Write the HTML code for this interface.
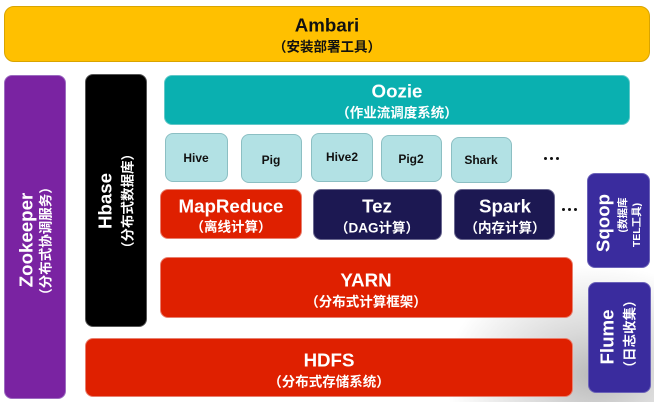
<!DOCTYPE html>
<html>
<head>
<meta charset="utf-8">
<style>
  html, body { margin:0; padding:0; }
  body {
    width:654px; height:402px; overflow:hidden; position:relative;
    background:#fff;
    font-family:"Liberation Sans","Noto Sans CJK SC",sans-serif;
  }
  .shade {
    position:absolute; left:0; top:0; width:654px; height:402px;
    background: radial-gradient(ellipse 150px 110px at 595px 375px, #b9b9b9 0%, #d9d9d9 40%, rgba(255,255,255,0) 100%);
  }
  .box { position:absolute; box-sizing:border-box; border-radius:8px; }
  .t { position:absolute; white-space:nowrap; line-height:1; font-weight:bold;
       transform: translate(-50%,-50%); }
  .r { position:absolute; white-space:nowrap; line-height:1; font-weight:bold;
       transform: translate(-50%,-50%) rotate(-90deg); }
  .title { font-size:18.7px; }
  .sub { font-size:13.5px; }
  .w { color:#fff; }
  .k { color:#111; }
  .red { background:#DF2000; border:1px solid #e88070; }
  .navy { background:#1C1852; border:1px solid #6a6890; }
  .light { background:#B2E1E4; border:1px solid #8CBFC3; }
  .blue { background:#3A2C9E; border:1px solid #6b62b8; }
  .dot { position:absolute; width:3px; height:3px; background:#111; border-radius:50%; }
</style>
</head>
<body>
<div class="shade"></div>

<!-- Ambari -->
<div class="box" style="left:4px;top:6px;width:646px;height:56px;background:#FFC000;border:1px solid #d9a400;border-radius:10px;"></div>
<div class="t title k" style="left:327px;top:26px;">Ambari</div>
<div class="t sub k" style="left:327px;top:47px;">（安装部署工具）</div>

<!-- Zookeeper -->
<div class="box" style="left:4px;top:75px;width:62px;height:324px;background:#7A23A2;border:1px solid #9c6cc0;"></div>
<div class="r title w" style="left:27px;top:240px;">Zookeeper</div>
<div class="r sub w" style="left:46px;top:241px;">（分布式协调服务）</div>

<!-- Hbase -->
<div class="box" style="left:85px;top:74px;width:62px;height:253px;background:#000;border:1px solid #555;"></div>
<div class="r title w" style="left:106px;top:201px;">Hbase</div>
<div class="r sub w" style="left:128px;top:201px;">（分布式数据库）</div>

<!-- Oozie -->
<div class="box" style="left:164px;top:75px;width:466px;height:50px;background:#0AB0B0;border:1px solid #62c8c8;"></div>
<div class="t title w" style="left:397px;top:92px;">Oozie</div>
<div class="t sub w" style="left:397px;top:113px;">（作业流调度系统）</div>

<!-- Light row -->
<div class="box light" style="left:165px;top:133px;width:63px;height:49px;"></div>
<div class="t k" style="left:196px;top:158px;font-size:12px;">Hive</div>
<div class="box light" style="left:241px;top:134px;width:61px;height:49px;"></div>
<div class="t k" style="left:271px;top:160px;font-size:12px;">Pig</div>
<div class="box light" style="left:311px;top:133px;width:62px;height:49px;"></div>
<div class="t k" style="left:342px;top:157px;font-size:12px;">Hive2</div>
<div class="box light" style="left:381px;top:135px;width:61px;height:47px;"></div>
<div class="t k" style="left:411px;top:159px;font-size:12px;">Pig2</div>
<div class="box light" style="left:451px;top:137px;width:61px;height:46px;"></div>
<div class="t k" style="left:481px;top:160px;font-size:12px;">Shark</div>
<div class="dot" style="left:544px;top:157px;"></div>
<div class="dot" style="left:550px;top:157px;"></div>
<div class="dot" style="left:556px;top:157px;"></div>

<!-- compute row -->
<div class="box red" style="left:160px;top:189px;width:142px;height:50px;"></div>
<div class="t title w" style="left:231px;top:207px;">MapReduce</div>
<div class="t sub w" style="left:231px;top:227px;">（离线计算）</div>

<div class="box navy" style="left:313px;top:189px;width:129px;height:51px;"></div>
<div class="t title w" style="left:377px;top:207px;">Tez</div>
<div class="t sub w" style="left:377px;top:228px;">（DAG计算）</div>

<div class="box navy" style="left:454px;top:189px;width:101px;height:51px;"></div>
<div class="t title w" style="left:505px;top:207px;">Spark</div>
<div class="t sub w" style="left:505px;top:228px;">（内存计算）</div>

<div class="dot" style="left:562px;top:208px;"></div>
<div class="dot" style="left:568px;top:208px;"></div>
<div class="dot" style="left:574px;top:208px;"></div>

<!-- Sqoop -->
<div class="box blue" style="left:587px;top:173px;width:63px;height:95px;"></div>
<div class="r title w" style="left:604px;top:223px;">Sqoop</div>
<div class="r w" style="left:623px;top:215px;font-size:10.5px;">(数据库</div>
<div class="r w" style="left:637px;top:225px;font-size:10.5px;">TEL工具)</div>

<!-- YARN -->
<div class="box red" style="left:160px;top:257px;width:413px;height:61px;"></div>
<div class="t title w" style="left:366px;top:281px;">YARN</div>
<div class="t sub w" style="left:366px;top:302px;">（分布式计算框架）</div>

<!-- Flume -->
<div class="box blue" style="left:588px;top:282px;width:63px;height:111px;"></div>
<div class="r title w" style="left:608px;top:337px;">Flume</div>
<div class="r sub w" style="left:630px;top:334px;">（日志收集）</div>

<!-- HDFS -->
<div class="box red" style="left:85px;top:338px;width:488px;height:59px;"></div>
<div class="t title w" style="left:329px;top:361px;">HDFS</div>
<div class="t sub w" style="left:329px;top:382px;">（分布式存储系统）</div>

</body>
</html>
